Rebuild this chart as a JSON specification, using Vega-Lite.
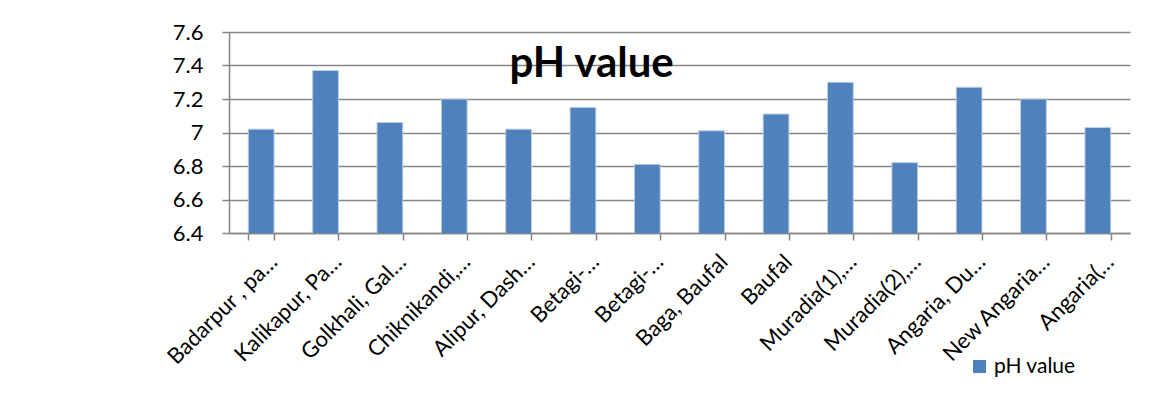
{
  "$schema": "https://vega.github.io/schema/vega-lite/v6.json",
  "width": 901,
  "height": 201,
  "autosize": {"type": "none"},
  "padding": {"left": 229, "top": 32, "right": 33, "bottom": 175},
  "background": "white",
  "datasets": {
    "ph": [
      {"site": "Badarpur , pa…", "ph": 7.02},
      {"site": "Kalikapur, Pa…", "ph": 7.37},
      {"site": "Golkhali, Gal…", "ph": 7.06},
      {"site": "Chiknikandi,…", "ph": 7.20},
      {"site": "Alipur, Dash…", "ph": 7.02},
      {"site": "Betagi-…", "ph": 7.15},
      {"site": "Betagi-… ", "ph": 6.81},
      {"site": "Baga, Baufal", "ph": 7.01},
      {"site": "Baufal", "ph": 7.11},
      {"site": "Muradia(1),…", "ph": 7.30},
      {"site": "Muradia(2),…", "ph": 6.82},
      {"site": "Angaria, Du…", "ph": 7.27},
      {"site": "New Angaria…", "ph": 7.20},
      {"site": "Angaria(…", "ph": 7.03}
    ],
    "title": [
      {"label": "pH value", "site": "Alipur, Dash…", "ph": 7.33}
    ]
  },
  "encoding": {
    "x": {
      "field": "site",
      "type": "nominal",
      "sort": null,
      "title": null,
      "scale": {"paddingInner": 0.6, "paddingOuter": 0.3},
      "axis": {
        "labelAngle": -45,
        "labelAlign": "right",
        "labelBaseline": "middle",
        "labelFont": "Lato",
        "labelFontSize": 22,
        "labelColor": "#000000",
        "labelPadding": 18,
        "labelOffset": 12,
        "labelLimit": 300,
        "tickBand": "extent",
        "tickSize": 7,
        "tickColor": "#868686",
        "tickWidth": 1.5,
        "domainColor": "#868686",
        "domainWidth": 1.5,
        "grid": false
      }
    },
    "y": {
      "field": "ph",
      "type": "quantitative",
      "title": null,
      "scale": {"domain": [6.4, 7.6], "zero": false, "nice": false},
      "axis": {
        "values": [6.4, 6.6, 6.8, 7.0, 7.2, 7.4, 7.6],
        "format": ".1~f",
        "labelFont": "Lato",
        "labelFontSize": 22,
        "labelColor": "#000000",
        "labelPadding": 19,
        "tickSize": 7,
        "tickColor": "#868686",
        "tickWidth": 1.5,
        "domainColor": "#868686",
        "domainWidth": 1.5,
        "grid": true,
        "gridColor": "#868686",
        "gridWidth": 1.5
      }
    }
  },
  "layer": [
    {
      "data": {"name": "ph"},
      "mark": {"type": "bar", "clip": true, "stroke": "#b9cde5", "strokeWidth": 1},
      "encoding": {
        "color": {
          "datum": "pH value",
          "type": "nominal",
          "scale": {"range": ["#4f81bd"]},
          "legend": {
            "title": null,
            "orient": "none",
            "legendX": 740,
            "legendY": 324,
            "symbolType": "square",
            "symbolSize": 170,
            "symbolStrokeWidth": 0,
            "labelFont": "Lato",
            "labelFontSize": 21,
            "labelColor": "#000000",
            "padding": 0
          }
        }
      }
    },
    {
      "data": {"name": "title"},
      "mark": {
        "type": "text",
        "font": "Lato",
        "fontSize": 42,
        "fontWeight": "bold",
        "color": "#000000",
        "align": "center",
        "baseline": "alphabetic",
        "dx": 73
      },
      "encoding": {
        "text": {"field": "label"}
      }
    }
  ],
  "config": {
    "view": {"stroke": null}
  }
}
